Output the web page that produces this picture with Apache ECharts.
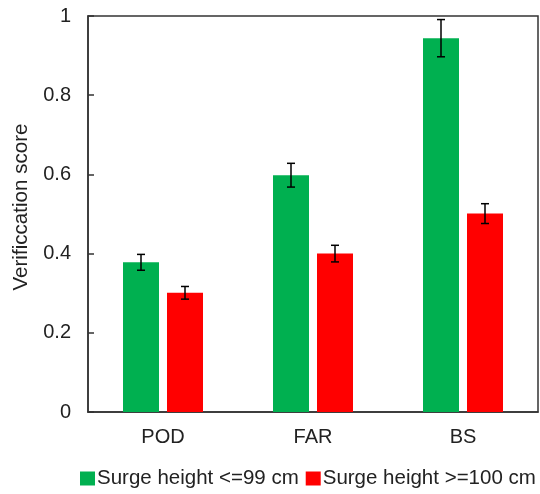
<!DOCTYPE html>
<html>
<head>
<meta charset="utf-8">
<script src="https://cdn.jsdelivr.net/npm/echarts@6/dist/echarts.min.js"></script>
<style>
  html, body { margin: 0; padding: 0; background: #fff; }
  #chart { width: 540px; height: 494px; }
</style>
</head>
<body>
<div id="chart"></div>
<script>
let categories = ['POD', 'FAR', 'BS']
let lowSurge = [0.378, 0.598, 0.944]
let lowSurgeErr = [0.02, 0.03, 0.047]
let highSurge = [0.301, 0.40, 0.501]
let highSurgeErr = [0.016, 0.021, 0.025]
let seriesNames = ['Surge height <=99 cm', 'Surge height >=100 cm']

const font = 'Liberation Sans, Arial, sans-serif'
const barW = 36
const gap = 8

function errData(vals, errs){
  return vals.map((v, i) => [i, v - errs[i], v + errs[i]])
}

function errRender(side){
  return function(params, api){
    let x = api.value(0)
    let lo = api.coord([x, api.value(1)])
    let hi = api.coord([x, api.value(2)])
    let cx = lo[0] + side * (barW + gap) / 2
    let cap = 4
    let style = { stroke: '#000', lineWidth: 1.5 }
    return {
      type: 'group',
      children: [
        { type: 'line', shape: { x1: cx, y1: hi[1], x2: cx, y2: lo[1] }, style },
        { type: 'line', shape: { x1: cx - cap, y1: hi[1], x2: cx + cap, y2: hi[1] }, style },
        { type: 'line', shape: { x1: cx - cap, y1: lo[1], x2: cx + cap, y2: lo[1] }, style }
      ]
    }
  }
}

let myChart = echarts.init(document.getElementById('chart'))
let option = {
  animation: false,
  textStyle: { fontFamily: font },
  grid: {
    left: 88, right: 2, top: 16, bottom: 82,
    show: true, borderColor: '#333', borderWidth: 1.5
  },
  legend: {
    data: seriesNames,
    left: 80, top: 468, padding: 0,
    itemWidth: 15, itemHeight: 14, itemGap: 7,
    icon: 'rect',
    textStyle: { fontSize: 20.5, color: '#222', fontFamily: font, padding: [0, 0, 0, -3] }
  },
  xAxis: {
    type: 'category',
    data: categories,
    axisLine: { lineStyle: { color: '#333', width: 1.5 } },
    axisTick: { show: false },
    axisLabel: { fontSize: 20, color: '#222', margin: 15, fontFamily: font },
    splitLine: { show: false }
  },
  yAxis: {
    type: 'value',
    min: 0, max: 1, interval: 0.2,
    name: 'Verificcation score',
    nameLocation: 'middle',
    nameGap: 55,
    nameTextStyle: { fontSize: 20.6, color: '#222', fontFamily: font, padding: [0, 0, 0, 14] },
    axisLine: { show: true, lineStyle: { color: '#333', width: 1.5 } },
    axisTick: { show: true, inside: true, length: 6, lineStyle: { color: '#333', width: 1.5 } },
    axisLabel: { fontSize: 20, color: '#222', margin: 17, fontFamily: font },
    splitLine: { show: false }
  },
  series: [
    {
      name: seriesNames[0], type: 'bar', data: lowSurge,
      barWidth: barW, barGap: (gap / barW * 100) + '%',
      itemStyle: { color: '#00b050' }
    },
    {
      name: seriesNames[1], type: 'bar', data: highSurge,
      barWidth: barW,
      itemStyle: { color: '#ff0000' }
    },
    {
      type: 'custom', renderItem: errRender(-1),
      data: errData(lowSurge, lowSurgeErr), z: 10
    },
    {
      type: 'custom', renderItem: errRender(1),
      data: errData(highSurge, highSurgeErr), z: 10
    }
  ]
}
myChart.setOption(option)
</script>
</body>
</html>
